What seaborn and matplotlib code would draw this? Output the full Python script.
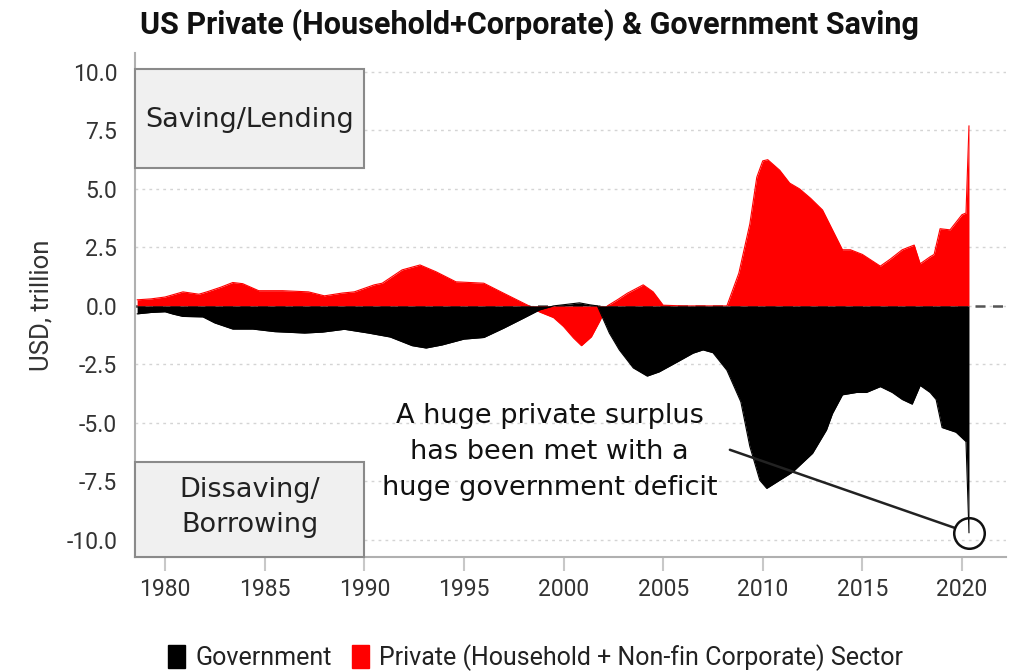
import matplotlib
matplotlib.use("Agg")
import matplotlib.pyplot as plt
import matplotlib.patches as mpatches
from matplotlib.ticker import FuncFormatter, FixedLocator
import seaborn as sns

# Sector saving balances, USD trillion (decimal years)
priv_years = [1978.6, 1979.3, 1980.0, 1980.9, 1981.7, 1982.1, 1982.8, 1983.4, 1983.9, 1984.7,
              1985.9, 1987.2, 1988.0, 1988.9, 1989.5, 1990.5, 1990.9, 1991.9, 1992.8, 1993.6,
              1994.6, 1996.0, 1997.0, 1998.2, 1998.8, 1999.5, 2000.0, 2000.5, 2000.9, 2001.4,
              2001.8, 2002.2, 2002.7, 2003.2, 2004.0, 2004.5, 2005.0, 2006.0, 2007.0, 2008.2,
              2008.8, 2009.35, 2009.7, 2010.0, 2010.25, 2010.85, 2011.35, 2011.85, 2012.4, 2013.0,
              2013.5, 2014.0, 2014.4, 2015.0, 2015.9, 2016.4, 2017.0, 2017.6, 2017.9, 2018.4,
              2018.6, 2018.9, 2019.4, 2020.0, 2020.2, 2020.35]
priv_values = [0.26, 0.30, 0.38, 0.60, 0.50, 0.60, 0.80, 1.00, 0.95, 0.65,
               0.65, 0.60, 0.43, 0.55, 0.60, 0.90, 0.97, 1.54, 1.75, 1.46,
               1.03, 0.97, 0.54, 0.03, -0.26, -0.50, -0.88, -1.37, -1.70, -1.32,
               -0.68, 0.00, 0.26, 0.54, 0.90, 0.60, 0.03, 0.00, 0.00, 0.00,
               1.40, 3.50, 5.50, 6.20, 6.25, 5.80, 5.25, 5.00, 4.60, 4.10,
               3.25, 2.40, 2.40, 2.20, 1.70, 2.00, 2.40, 2.60, 1.80, 2.10,
               2.20, 3.30, 3.25, 3.90, 3.97, 7.70]

gov_years = [1978.6, 1979.3, 1980.0, 1980.4, 1980.9, 1981.9, 1982.5, 1983.4, 1984.4, 1985.5,
             1987.0, 1987.9, 1989.0, 1990.2, 1991.3, 1992.4, 1993.1, 1993.9, 1995.0, 1996.0,
             1997.0, 1998.0, 1998.8, 1999.5, 2000.0, 2000.8, 2001.3, 2001.7, 2002.3, 2002.8,
             2003.5, 2004.2, 2004.8, 2005.7, 2006.5, 2007.0, 2007.5, 2008.2, 2008.9, 2009.35,
             2009.85, 2010.2, 2010.85, 2011.5, 2012.5, 2013.2, 2013.5, 2014.0, 2014.7, 2015.2,
             2015.9, 2016.5, 2017.0, 2017.5, 2017.9, 2018.4, 2018.7, 2019.0, 2019.7, 2020.2,
             2020.35]
gov_values = [-0.34, -0.28, -0.25, -0.35, -0.45, -0.47, -0.73, -0.99, -0.99, -1.10,
              -1.16, -1.12, -1.00, -1.16, -1.33, -1.70, -1.80, -1.67, -1.42, -1.35,
              -0.95, -0.52, -0.17, 0.00, 0.05, 0.13, 0.05, 0.00, -1.16, -1.88,
              -2.65, -3.00, -2.82, -2.40, -2.02, -1.88, -2.00, -2.75, -4.10, -6.00,
              -7.45, -7.80, -7.45, -7.10, -6.30, -5.30, -4.60, -3.80, -3.70, -3.70,
              -3.45, -3.70, -4.00, -4.20, -3.40, -3.70, -4.00, -5.20, -5.40, -5.80,
              -9.70]

y_ticks = [-10.0, -7.5, -5.0, -2.5, 0.0, 2.5, 5.0, 7.5, 10.0]
x_ticks = [1980, 1985, 1990, 1995, 2000, 2005, 2010, 2015, 2020]

title = "US Private (Household+Corporate) & Government Saving"
gov_label = "Government"
priv_label = "Private (Household + Non-fin Corporate) Sector"
note = "A huge private surplus\nhas been met with a\nhuge government deficit"

RED = "#ff0000"
BLACK = "#000000"
GREY_TXT = "#333333"
CALLOUT_FONT = ["DejaVu Sans"]

sns.set_theme(style="white")
plt.rcParams["font.family"] = ["Roboto", "DejaVu Sans"]
plt.rcParams["axes.unicode_minus"] = False

fig = plt.figure(figsize=(10.16, 6.71), dpi=100)
ax = fig.add_axes([0.133, 0.170, 0.857, 0.751])

# zero reference line
ax.axhline(0, color="#555555", lw=1.8, ls=(0, (4, 3)), zorder=1)

# private sector area (drawn first), government area on top
ax.fill_between(priv_years, 0, priv_values, color=RED, lw=0, zorder=2)
sns.lineplot(x=priv_years, y=priv_values, color=RED, lw=0.8, ax=ax, zorder=2, sort=False)
ax.fill_between(gov_years, 0, gov_values, color=BLACK, lw=0, zorder=3)
sns.lineplot(x=gov_years, y=gov_values, color=BLACK, lw=0.8, ax=ax, zorder=3, sort=False)

ax.set_xlim(1978.5, 2022.2)
ax.set_ylim(-10.73, 10.81)

ax.yaxis.set_major_locator(FixedLocator(y_ticks))
ax.yaxis.set_major_formatter(FuncFormatter(lambda v, p: f"{v:.1f}"))
ax.xaxis.set_major_locator(FixedLocator(x_ticks))
ax.xaxis.set_major_formatter(FuncFormatter(lambda v, p: f"{int(round(v))}"))

ax.yaxis.grid(True, color="#d4d4d4", lw=1.0, ls=(0, (2, 3)), zorder=0)
ax.xaxis.grid(False)
ax.set_axisbelow(True)

sns.despine(ax=ax, top=True, right=True)
for side in ("left", "bottom"):
    ax.spines[side].set_color("#b0b0b0")
    ax.spines[side].set_linewidth(1.5)

ax.tick_params(axis="x", which="major", length=10, width=1.5, color="#c8c8c8",
               labelsize=16.5, labelcolor=GREY_TXT, pad=5, direction="out", bottom=True)
ax.tick_params(axis="y", which="major", length=0, labelsize=16.5, labelcolor=GREY_TXT, pad=13)

ax.set_ylabel("USD, trillion", fontsize=18.5, color=GREY_TXT, labelpad=9)
ax.set_xlabel("")

# shaded region labels
box_kw = dict(facecolor="#f0f0f0", edgecolor="#8a8a8a", lw=1.5, zorder=4, clip_on=False)
ax.add_patch(mpatches.Rectangle((1978.5, 5.9), 11.5, 4.23, **box_kw))
ax.add_patch(mpatches.Rectangle((1978.5, -10.73), 11.5, 4.06, **box_kw))
ax.text(1984.25, 7.95, "Saving/Lending", ha="center", va="center", fontsize=19.5,
        color="#222222", zorder=5, family=CALLOUT_FONT)
ax.text(1984.25, -8.62, "Dissaving/\nBorrowing", ha="center", va="center", fontsize=19.5,
        color="#222222", linespacing=1.45, zorder=5, family=CALLOUT_FONT)

# callout on the latest reading
last_x, last_y = gov_years[-1], gov_values[-1]
ax.text(1999.3, -6.25, note, ha="center", va="center", fontsize=19.5, color="#111111",
        linespacing=1.5, zorder=5, family=CALLOUT_FONT)
ax.annotate("", xy=(last_x, last_y), xytext=(2008.35, -6.15),
            arrowprops=dict(arrowstyle="-", color="#222222", lw=1.8, shrinkA=0, shrinkB=11),
            zorder=5)
ax.plot([last_x], [last_y], marker="o", ms=22, mfc="none", mec="#111111", mew=1.8,
        zorder=6, clip_on=False)

fig.text(0.138, 0.963, title, ha="left", va="center", fontsize=22, fontweight="bold",
         color="#111111")

handles = [mpatches.Patch(color=BLACK, label=gov_label),
           mpatches.Patch(color=RED, label=priv_label)]
fig.legend(handles=handles, loc="center", bbox_to_anchor=(0.527, 0.02), ncol=2,
           frameon=False, fontsize=18, handlelength=0.7, handleheight=1.0,
           handletextpad=0.4, columnspacing=0.8, labelcolor="#222222")

fig.savefig("out.png", dpi=100)
